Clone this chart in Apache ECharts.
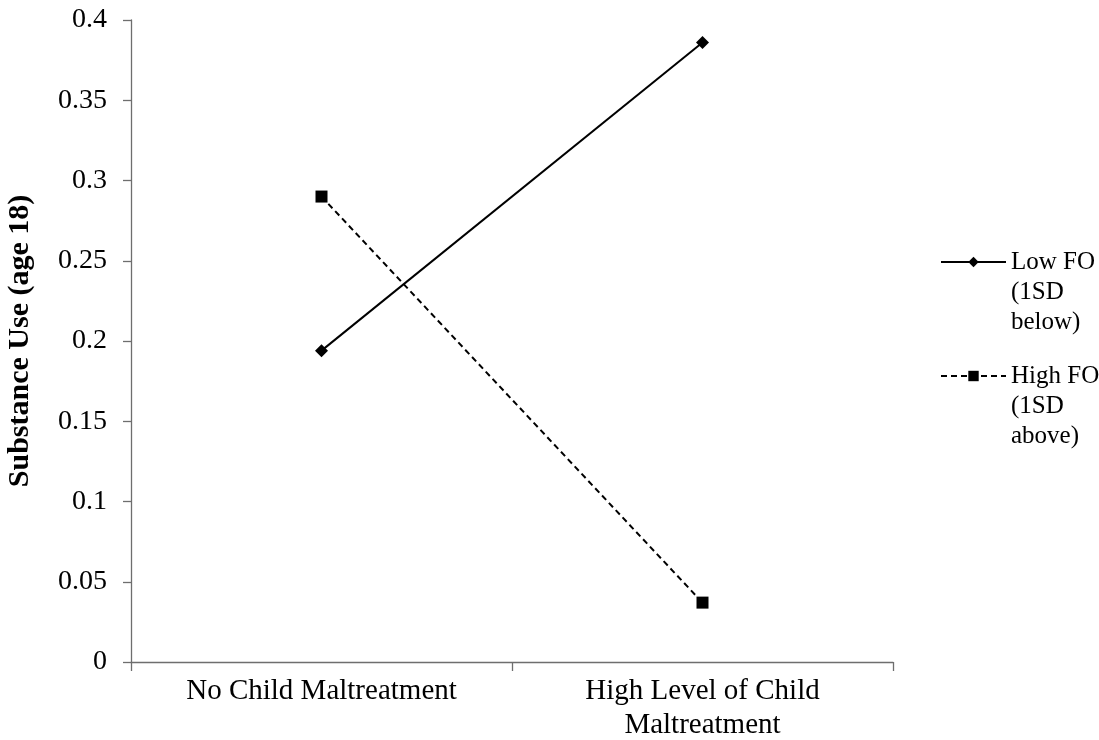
<!DOCTYPE html>
<html>
<head>
<meta charset="utf-8">
<script src="https://cdn.jsdelivr.net/npm/echarts@6/dist/echarts.min.js"></script>
<style>
  html, body { margin: 0; padding: 0; background: #fff; }
  #chart { width: 1099px; height: 740px; }
</style>
</head>
<body>
<div id="chart"></div>
<script>
// Interaction plot: substance use at age 18 by maltreatment level and FO group
const categories = ['No Child Maltreatment', 'High Level of Child\nMaltreatment'];
const lowFO = [0.194, 0.386];
const highFO = [0.290, 0.037];
const seriesNames = ['Low FO (1SD below)', 'High FO (1SD above)'];
const yAxisTitle = 'Substance Use (age 18)';

const FONT = '"Liberation Serif", "Times New Roman", serif';
const AXIS_COLOR = '#6e6e6e';

// Two blank lines first so the label's first line sits level with the legend icon
function legendLabel(name) {
  return ' \n \n' + name.replace(' (', '\n(').replace('SD ', 'SD\n');
}

function legendFor(name, top) {
  return {
    data: [name],
    left: 940,
    top: top,
    orient: 'vertical',
    padding: 0,
    itemWidth: 65,
    itemHeight: 13,
    formatter: legendLabel,
    textStyle: {
      fontFamily: FONT,
      fontSize: 25,
      lineHeight: 30,
      color: '#000'
    }
  };
}

const chart = echarts.init(document.getElementById('chart'), null, { renderer: 'canvas' });

chart.setOption({
  animation: false,
  backgroundColor: '#fff',
  grid: { left: 131, right: 206, top: 20, bottom: 78, containLabel: false, outerBoundsMode: 'none' },
  legend: [legendFor(seriesNames[0], 187), legendFor(seriesNames[1], 301)],
  xAxis: {
    type: 'category',
    data: categories,
    boundaryGap: true,
    axisLine: { lineStyle: { color: AXIS_COLOR, width: 1.3 } },
    axisTick: { show: true, alignWithLabel: false, length: 9, inside: false, lineStyle: { color: AXIS_COLOR, width: 1.3 } },
    axisLabel: {
      fontFamily: FONT, fontSize: 29, color: '#000',
      lineHeight: 34, margin: 12, interval: 0
    },
    splitLine: { show: false }
  },
  yAxis: {
    type: 'value',
    min: 0,
    max: 0.4,
    interval: 0.05,
    name: yAxisTitle,
    nameLocation: 'middle',
    nameRotate: 90,
    nameGap: 96,
    nameTextStyle: { fontFamily: FONT, fontSize: 30, fontWeight: 'bold', color: '#000' },
    axisLine: { show: true, lineStyle: { color: AXIS_COLOR, width: 1.3 } },
    axisTick: { show: true, length: 8, lineStyle: { color: AXIS_COLOR, width: 1.3 } },
    axisLabel: { fontFamily: FONT, fontSize: 28, color: '#000', margin: 24 },
    splitLine: { show: false }
  },
  series: [
    {
      name: seriesNames[0],
      type: 'line',
      data: lowFO,
      symbol: 'diamond',
      symbolSize: 13,
      itemStyle: { color: '#000' },
      lineStyle: { color: '#000', width: 2, type: 'solid' }
    },
    {
      name: seriesNames[1],
      type: 'line',
      data: highFO,
      symbol: 'rect',
      symbolSize: 12,
      itemStyle: { color: '#000' },
      lineStyle: { color: '#000', width: 2, type: [6, 4] }
    }
  ]
});
</script>
</body>
</html>
